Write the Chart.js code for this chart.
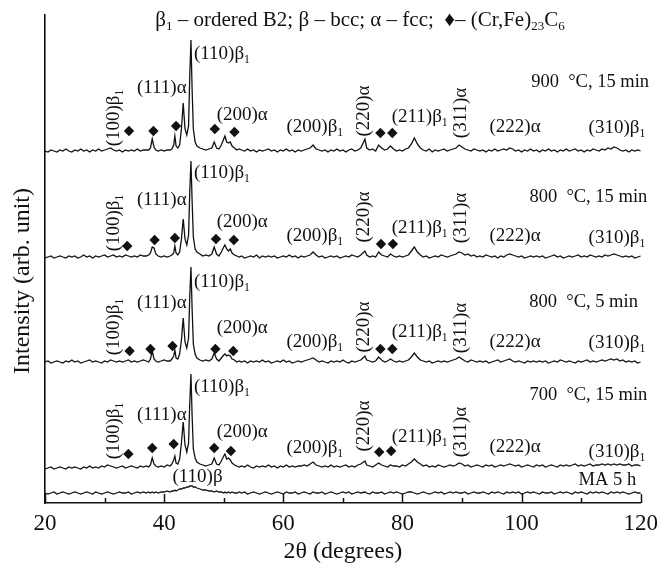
<!DOCTYPE html>
<html>
<head>
<meta charset="utf-8">
<script src="https://cdn.jsdelivr.net/npm/chart.js@4.4.0/dist/chart.umd.min.js"></script>
<style>
  html, body { margin: 0; padding: 0; background: #fff; }
  #xrd { display: block; }
</style>
</head>
<body>
<canvas id="xrd" width="665" height="564"></canvas>
<script>
// 2theta grid (degrees), denser around the main reflections
var twoTheta = [
  20, 20.5, 21, 21.5, 22, 22.5, 23, 23.5, 24, 24.5,
  25, 25.5, 26, 26.5, 27, 27.5, 28, 28.5, 29, 29.5,
  30, 30.5, 31, 31.5, 32, 32.5, 33, 33.5, 34, 34.5,
  35, 35.5, 36, 36.5,
  37, 37.4, 37.7, 38.0, 38.3, 38.6, 39.0, 39.5, 40, 40.5,
  41, 41.3, 41.6, 41.8, 42.0, 42.3, 42.6, 42.9, 43.2, 43.5,
  43.8, 44.1, 44.3, 44.5, 44.7, 44.9, 45.2, 45.5, 46, 46.5,
  47, 47.5, 48.0, 48.4, 48.8, 49.2, 49.6, 50.0, 50.2, 50.5,
  50.8, 51.1, 51.4, 51.8, 52.2, 52.6,
  53, 53.5, 54, 54.5, 55, 55.5, 56, 56.5, 57, 57.5,
  58, 58.5, 59, 59.5, 60, 60.5, 61, 61.5, 62, 62.5,
  63, 63.5, 64, 64.5, 65, 65.5, 66, 66.5, 67, 67.5,
  68, 68.5, 69, 69.5, 70, 70.5, 71, 71.5, 72, 72.5,
  73, 73.7, 74, 74.5, 75, 75.5, 76, 76.5, 77, 77.5,
  78, 78.5, 79, 79.5, 80, 80.5, 81, 81.5, 82, 82.5,
  83, 83.5, 84, 84.5, 85, 85.5, 86, 86.5, 87, 87.5,
  88, 88.5, 89, 89.5, 90, 90.5, 91, 91.5, 92, 92.5,
  93, 93.5, 94, 94.5, 95, 95.5, 96, 96.5, 97, 97.5,
  98, 98.5, 99, 99.5, 100, 100.5, 101, 101.5, 102, 102.5,
  103, 103.5, 104, 104.5, 105, 105.5, 106, 106.5, 107, 107.5,
  108, 108.5, 109, 109.5, 110, 110.5, 111, 111.5, 112, 112.5,
  113, 113.5, 114, 114.5, 115, 115.5, 116, 116.5, 117, 117.5,
  118, 118.5, 119, 119.5, 120
];

// intensities (arb. unit)
var int900 = [
  0, -1, 1, 0, -1, 1, 0, 2, 0, -1,
  1, 0, 2, 0, 1, -1, 1, 0, 2, 0,
  1, 2, 3, 1, 0, 1, -1, 1, 0, 1,
  0, 2, 0, 1,
  1, 1, 3, 12, 4, 1, 0, 1, 0, 1,
  1, 2, 6, 15, 5, 3, 6, 22, 48, 22,
  16, 25, 75, 111, 60, 22, 9, 5, 3, 2,
  1, 2, 3, 9, 3, 2, 6, 12, 15, 9,
  8, 9, 5, 3, 1, 2,
  1, 0, 2, 0, 1, -1, 1, 0, 1, 2,
  0, 1, -1, 1, 0, 2, 0, 1, -1, 1,
  0, 1, 2, 3, 6, 2, 1, 0, 1, -1,
  1, 0, 2, 0, 1, -1, 1, 2, 0, 1,
  3, 12, 3, 1, 2, 0, 6, 3, 1, 2,
  5, 2, 0, 1, 0, 2, 3, 7, 13, 7,
  3, 1, 0, 2, -1, 1, 0, 1, 2, 0,
  1, 2, 3, 6, 4, 2, 1, 0, 2, 1,
  0, 1, -1, 1, 0, 2, 0, 1, 2, 1,
  3, 2, 0, 1, -1, 1, 0, 2, 0, 1,
  -1, 1, 0, 2, 0, 1, -1, 1, 0, 2,
  0, 1, 2, 0, 1, -1, 1, 0, 2, 1,
  0, 2, 1, 3, 2, 4, 3, 1, 0, 1,
  -1, 1, 0, 1, 0
];
var int800_15 = [
  -1, 0, 1, -1, 0, 1, 0, -1, 1, 0,
  1, -1, 0, 2, 0, 1, -1, 1, 0, 1,
  2, 0, 1, 2, 0, 1, 0, 2, 1, 0,
  1, 0, 2, 1,
  1, 2, 4, 10, 9, 3, 1, 0, 1, 0,
  1, 2, 4, 11, 4, 2, 5, 18, 38, 18,
  12, 22, 65, 96, 55, 20, 8, 5, 3, 1,
  2, 1, 3, 10, 3, 1, 5, 10, 12, 8,
  6, 8, 4, 2, 1, 0,
  1, -1, 0, 1, 0, 2, -1, 1, 0, 1,
  0, 1, -1, 0, 1, 0, 2, 0, 1, -1,
  1, 0, 1, 2, 5, 2, 0, 1, -1, 0,
  1, 0, 1, -1, 0, 1, 0, 2, 1, 0,
  2, 6, 2, 0, 1, 0, 5, 2, 1, 0,
  3, 1, 0, 1, 0, 1, 2, 6, 10, 5,
  2, 0, 1, -1, 0, 1, 0, 2, 1, 0,
  1, 2, 3, 5, 4, 2, 3, 1, 2, 0,
  1, 0, 2, 1, 0, 1, -1, 1, 0, 2,
  3, 2, 1, 0, 1, -1, 0, 1, 0, 1,
  0, 1, -1, 0, 1, 2, 0, 1, -1, 0,
  1, 0, 1, 2, 0, 1, 0, 2, 1, 0,
  1, 0, 2, 1, 2, 3, 2, 1, 0, 1,
  0, 1, -1, 0, 1
];
var int800_5 = [
  0, 1, -1, 0, 1, 0, -1, 1, 0, 2,
  0, 1, -1, 0, 1, 2, 0, 1, 0, -1,
  1, 0, 2, 1, 0, 1, 0, 1, 2, 0,
  1, 0, 1, 2,
  1, 0, 3, 11, 3, 1, 0, 1, 2, 1,
  1, 3, 6, 12, 4, 3, 8, 22, 44, 20,
  14, 24, 66, 95, 52, 18, 8, 4, 2, 1,
  2, 1, 3, 9, 3, 1, 4, 7, 8, 6,
  7, 6, 3, 2, 0, 1,
  0, 1, -1, 1, 0, 1, 0, 2, 0, 1,
  -1, 0, 1, 0, 2, 0, 1, -1, 0, 1,
  0, 1, 2, 3, 4, 2, 0, 1, 0, -1,
  1, 0, 1, 0, 2, 0, -1, 1, 0, 1,
  2, 6, 2, 1, 0, 1, 5, 2, 0, 1,
  3, 1, 0, 1, 0, 1, 2, 5, 9, 5,
  2, 1, 0, 1, -1, 0, 1, 0, 1, 0,
  1, 2, 3, 5, 3, 1, 0, 2, 1, 0,
  1, 0, 1, -1, 0, 1, 2, 0, 1, 2,
  3, 1, 0, 1, 0, -1, 1, 0, 1, 0,
  1, 0, 1, -1, 0, 1, 0, 2, 1, 0,
  1, 0, -1, 1, 0, 1, 2, 0, 1, 0,
  1, 2, 1, 2, 3, 2, 3, 1, 2, 0,
  1, 0, 1, -1, 0
];
var int700 = [
  -2, -1, 0, -2, -1, 0, -1, -2, 0, -1,
  0, -1, -2, 0, -1, 1, -1, 0, -1, 1,
  0, 2, 1, 0, -1, 0, 1, -1, 0, 1,
  0, -1, 1, 0,
  1, 0, 2, 9, 3, 1, 0, 1, 0, 2,
  1, 3, 7, 11, 4, 3, 8, 24, 45, 22,
  15, 24, 64, 93, 50, 18, 9, 5, 3, 2,
  1, 2, 3, 9, 3, 2, 6, 11, 13, 8,
  9, 7, 4, 2, 1, 0,
  1, 0, 2, 0, -1, 1, 0, 1, 0, 2,
  0, 1, -1, 1, 0, 2, 0, 1, 0, 1,
  1, 2, 1, 3, 5, 2, 1, 0, 1, 0,
  2, 0, 1, 0, 1, 2, 0, 1, 0, 2,
  3, 6, 2, 1, 0, 2, 4, 2, 1, 0,
  2, 1, 1, 0, 2, 1, 3, 5, 8, 5,
  3, 1, 2, 0, 1, 0, 2, 1, 0, 1,
  2, 1, 2, 4, 3, 1, 2, 0, 1, 2,
  1, 0, 2, 1, 2, 0, 1, 2, 1, 2,
  3, 2, 1, 2, 0, 1, 2, 1, 0, 2,
  1, 2, 0, 1, 2, 1, 0, 2, 1, 2,
  1, 2, 3, 1, 2, 1, 2, 3, 1, 2,
  2, 3, 2, 3, 2, 3, 2, 3, 2, 2,
  3, 1, 2, 2, 1
];
var intMA5h = [
  0, -1, 0, 1, -1, 0, 1, 0, -1, 0,
  1, 0, -1, 0, 1, 0, -1, 1, 0, -1,
  0, 1, 0, -1, 0, 1, 0, 0, 1, -1,
  0, 1, 0, 1,
  0, 1, 0, 1, 0, 1, 0, 1, 1, 2,
  1, 2, 2, 3, 2, 3, 4, 4, 5, 5,
  6, 6, 7, 7, 7, 6, 6, 5, 4, 3,
  3, 2, 2, 1, 2, 1, 1, 0, 1, 0,
  1, 0, 1, 0, 0, 1,
  0, 1, -1, 0, 1, 0, -1, 0, 1, 0,
  -1, 0, 1, 0, -1, 1, 0, 0, 1, -1,
  0, 1, 0, -1, 1, 0, 0, 1, -1, 0,
  1, 0, -1, 0, 1, 0, 1, -1, 0, 1,
  0, 1, 0, -1, 1, 0, 0, 1, -1, 0,
  1, 0, 1, 0, -1, 0, 1, 1, 0, -1,
  0, 1, 0, -1, 0, 1, 0, 1, -1, 0,
  1, 0, 1, 0, 0, 1, -1, 0, 1, 0,
  0, 1, 0, -1, 1, 0, 1, 0, -1, 1,
  0, 1, 0, 1, -1, 0, 1, 0, 1, 0,
  -1, 1, 0, 0, 1, -1, 0, 1, 0, 1,
  0, -1, 1, 0, 1, 0, -1, 1, 0, 1,
  0, 1, 0, -1, 1, 0, 1, 0, 1, 0,
  -1, 0, 1, 0, 0
];

var sampleNames = ["900  °C, 15 min", "800  °C, 15 min", "800  °C, 5 min", "700  °C, 15 min", "MA 5 h"];

// (Cr,Fe)23C6 markers: 2theta and height above trace
var carbideAt900 = [34.1, 38.2, 42.0, 48.5, 51.8, 76.3, 78.3];
var carbideH900 = [20, 20, 25, 22, 19, 18, 18];
var carbideAt800_15 = [33.8, 38.4, 41.8, 48.7, 51.7, 76.4, 78.4];
var carbideH800_15 = [11, 17, 19, 18, 17, 13, 13];
var carbideAt800_5 = [34.2, 37.7, 41.4, 48.6, 51.6, 76.3, 78.3];
var carbideH800_5 = [11, 13, 16, 13, 11, 13, 13];
var carbideAt700 = [34.0, 38.0, 41.6, 48.4, 51.2, 76.1, 78.1];
var carbideH700 = [13, 19, 23, 19, 16, 15, 16];

// reflection labels ({..} = subscript)
var peakLabels = ["(100)β{1}", "(111)α", "(110)β{1}", "(200)α", "(200)β{1}", "(220)α", "(211)β{1}", "(311)α", "(222)α", "(310)β{1}"];
var peakLabelAt = [31.55, 39.6, 49.7, 53.1, 65.3, 73.5, 82.9, 89.9, 98.9, 116.0];
var peakLabelUp = [true, false, false, false, false, true, false, true, false, false];
var labelH900 = [33, 63, 97, 36, 24, 40, 34, 38, 24, 23];
var labelH800_15 = [34, 57, 84, 35, 21, 40, 29, 39, 21, 19];
var labelH800_5 = [35, 59, 80, 34, 20, 35, 30, 34, 20, 19];
var labelH700 = [36, 52, 80, 35, 19, 41, 30, 35, 20, 15];

// layout of the stack (not data)
var traceOffset = [352, 246, 141, 36, 10];
var nameAt = [111.5, 111.2, 110.4, 111.2, 114.4];
var nameH = [69, 60, 60, 72, 13];

var SERIF = '"Liberation Serif", "Times New Roman", serif';
var INK = '#111';

var traces = [int900, int800_15, int800_5, int700, intMA5h];
traces.forEach(function (t, k) {
  if (t.length !== twoTheta.length) console.error('trace ' + k + ' has ' + t.length + ' points, grid has ' + twoTheta.length);
});

var carbideAt = [carbideAt900, carbideAt800_15, carbideAt800_5, carbideAt700];
var carbideH = [carbideH900, carbideH800_15, carbideH800_5, carbideH700];
var labelH = [labelH900, labelH800_15, labelH800_5, labelH700];

var datasets = traces.map(function (t, k) {
  return {
    label: sampleNames[k],
    data: twoTheta.map(function (x, i) { return { x: x, y: traceOffset[k] + t[i] }; }),
    borderColor: INK,
    borderWidth: 1.3,
    pointRadius: 0,
    tension: 0,
    fill: false
  };
});
carbideAt.forEach(function (xs, k) {
  datasets.push({
    label: 'carbide ' + k,
    data: xs.map(function (x, i) { return { x: x, y: traceOffset[k] + carbideH[k][i] }; }),
    showLine: false,
    pointStyle: 'rectRot',
    pointRadius: 5.2,
    backgroundColor: INK,
    borderColor: INK,
    borderWidth: 0
  });
});

// text with {subscript} parts
function richParts(s) {
  var out = [], m, re = /\{([^}]*)\}|[^{]+/g;
  while ((m = re.exec(s))) out.push(m[1] !== undefined ? [m[1], true] : [m[0], false]);
  return out;
}
function drawRich(ctx, s, x, y, size, align) {
  var parts = richParts(s), w = 0;
  parts.forEach(function (p) {
    ctx.font = (p[1] ? size * 0.62 : size) + 'px ' + SERIF;
    w += ctx.measureText(p[0]).width;
  });
  var cx = align === 'center' ? x - w / 2 : x;
  parts.forEach(function (p) {
    ctx.font = (p[1] ? size * 0.62 : size) + 'px ' + SERIF;
    ctx.fillText(p[0], cx, p[1] ? y + size * 0.32 : y);
    cx += ctx.measureText(p[0]).width;
  });
}

var annotations = {
  id: 'annotations',
  afterDraw: function (chart) {
    var ctx = chart.ctx, xs = chart.scales.x, ys = chart.scales.y, area = chart.chartArea;
    ctx.save();
    ctx.fillStyle = INK;
    ctx.strokeStyle = INK;
    ctx.textBaseline = 'middle';

    // inward ticks on 2theta axis
    ctx.lineWidth = 1.5;
    for (var v = 20; v <= 120; v += 10) {
      var px = Math.round(xs.getPixelForValue(v)) + 0.5;
      ctx.beginPath();
      ctx.moveTo(px, area.bottom);
      ctx.lineTo(px, area.bottom - (v % 20 === 0 ? 9 : 5));
      ctx.stroke();
    }

    // reflection labels
    labelH.forEach(function (hs, k) {
      peakLabels.forEach(function (txt, i) {
        var px = xs.getPixelForValue(peakLabelAt[i]);
        var py = ys.getPixelForValue(traceOffset[k] + hs[i]);
        if (peakLabelUp[i]) {
          ctx.save();
          ctx.translate(px, py);
          ctx.rotate(-Math.PI / 2);
          drawRich(ctx, txt, 0, 0, 19, 'center');
          ctx.restore();
        } else {
          drawRich(ctx, txt, px, py, 19, 'center');
        }
      });
    });
    drawRich(ctx, '(110)β', xs.getPixelForValue(45.6), ys.getPixelForValue(traceOffset[4] + 16), 19, 'center');

    // sample names
    sampleNames.forEach(function (n, k) {
      drawRich(ctx, n, xs.getPixelForValue(nameAt[k]), ys.getPixelForValue(traceOffset[k] + nameH[k]), 18.5, 'center');
    });

    // phase key on top
    drawRich(ctx, 'β{1} – ordered B2; β – bcc; α – fcc;  ♦– (Cr,Fe){23}C{6}', 360, 20, 21, 'center');

    // y title
    ctx.save();
    ctx.translate(23, 281);
    ctx.rotate(-Math.PI / 2);
    drawRich(ctx, 'Intensity (arb. unit)', 0, 0, 24, 'center');
    ctx.restore();

    ctx.restore();
  }
};

new Chart(document.getElementById('xrd'), {
  type: 'line',
  data: { datasets: datasets },
  options: {
    responsive: false,
    animation: false,
    layout: { padding: { top: 15, right: 18, left: 0, bottom: 0 } },
    plugins: { legend: { display: false }, tooltip: { enabled: false } },
    scales: {
      x: {
        type: 'linear',
        min: 20,
        max: 120,
        ticks: { stepSize: 20, padding: 7, color: INK, font: { family: SERIF, size: 23 } },
        grid: { display: false, drawTicks: false },
        border: { display: true, color: INK, width: 1.6 },
        title: { display: true, text: '2θ (degrees)', color: INK, padding: 0, font: { family: SERIF, size: 24, lineHeight: 1 } },
        afterFit: function (scale) { scale.height = 61; }
      },
      y: {
        min: 0,
        max: 488,
        ticks: { display: false },
        grid: { display: false, drawTicks: false },
        border: { display: true, color: INK, width: 1.6 },
        afterFit: function (scale) { scale.width = 45; }
      }
    }
  },
  plugins: [annotations]
});
</script>
</body>
</html>
